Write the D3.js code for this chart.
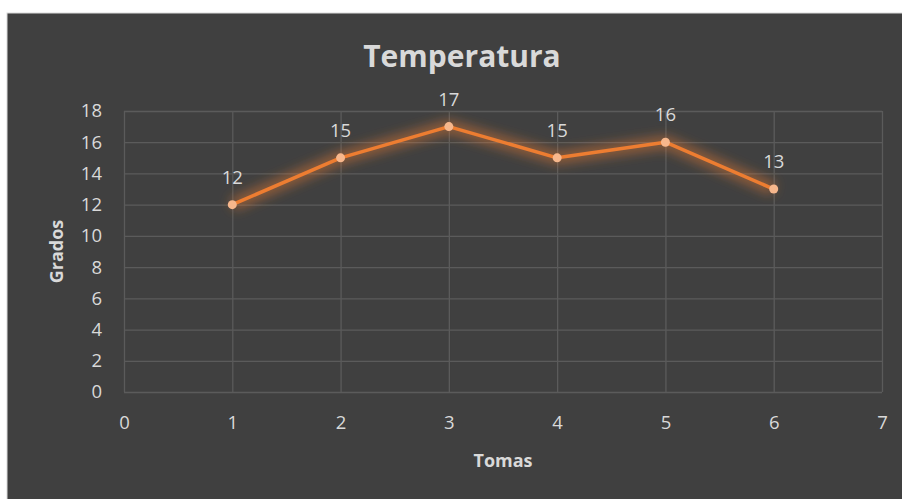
<!DOCTYPE html>
<html>
<head>
<meta charset="utf-8">
<script src="https://cdn.jsdelivr.net/npm/d3@7"></script>
<style>
	html, body { margin: 0; padding: 0; background: #fff; }
	svg { display: block; }
</style>
</head>
<body>
<svg id="chart" width="902" height="499"></svg>
<script>
// Chart data
const tomas = [1, 2, 3, 4, 5, 6]
const grados = [12, 15, 17, 15, 16, 13]
const xTicks = [0, 1, 2, 3, 4, 5, 6, 7]
const yTicks = [0, 2, 4, 6, 8, 10, 12, 14, 16, 18]
const title = 'Temperatura'
const xTitle = 'Tomas'
const yTitle = 'Grados'

const font = '"Open Sans", "Noto Sans", sans-serif'
const textColor = '#d9d9d9'
const gridColor = '#5b5b5b'
const orange = '#ed7d31'

let svg = d3.select('#chart')
let margin = { top: 111, right: 20, bottom: 107, left: 124 },
	width = 902 - margin.left - margin.right,
	height = 499 - margin.top - margin.bottom

// dark panel
svg.append('rect')
	.attr('x', 7).attr('y', 13)
	.attr('width', 902).attr('height', 499)
	.attr('fill', '#404040')
	.attr('stroke', '#d9d9d9')
	.attr('stroke-width', 1)

let defs = svg.append('defs')
let glow = defs.append('filter')
	.attr('id', 'glow')
	.attr('x', '-20%').attr('y', '-50%')
	.attr('width', '140%').attr('height', '200%')
glow.append('feGaussianBlur')
	.attr('in', 'SourceGraphic')
	.attr('stdDeviation', 6)

let x = d3.scaleLinear()
	.domain([0, 7])
	.range([margin.left, margin.left + width])
let y = d3.scaleLinear()
	.domain([0, 18])
	.range([margin.top + height, margin.top])

// Grid lines
svg.append('g')
	.selectAll('line')
	.data(yTicks)
	.join('line')
	.attr('x1', x(0)).attr('x2', x(7))
	.attr('y1', d => y(d) + 0.5).attr('y2', d => y(d) + 0.5)
	.attr('stroke', gridColor)
	.attr('stroke-width', 1.3)

svg.append('g')
	.selectAll('line')
	.data(xTicks)
	.join('line')
	.attr('x1', d => x(d) + 0.5).attr('x2', d => x(d) + 0.5)
	.attr('y1', y(0)).attr('y2', y(18))
	.attr('stroke', gridColor)
	.attr('stroke-width', 1.3)

// Axes (labels only)
let xAxis = svg.append('g')
	.attr('transform', `translate(0, ${y(0)})`)
	.call(d3.axisBottom(x).tickValues(xTicks).tickSize(0).tickPadding(24).tickFormat(d3.format('d')))
let yAxis = svg.append('g')
	.attr('transform', `translate(${x(0)}, 0)`)
	.call(d3.axisLeft(y).tickValues(yTicks).tickSize(0).tickPadding(22).tickFormat(d3.format('d')))

;[xAxis, yAxis].forEach(a => {
	a.select('.domain').remove()
	a.selectAll('text')
		.attr('fill', textColor)
		.attr('font-family', font)
		.attr('font-size', 18.5)
})

// Line with glow
let data = tomas.map((t, i) => [t, grados[i]])
let line = d3.line().x(d => x(d[0])).y(d => y(d[1]))

svg.append('path')
	.datum(data)
	.attr('fill', 'none')
	.attr('stroke', orange)
	.attr('stroke-width', 12)
	.attr('stroke-opacity', 0.5)
	.attr('stroke-linejoin', 'round')
	.attr('filter', 'url(#glow)')
	.attr('d', line)

svg.append('path')
	.datum(data)
	.attr('fill', 'none')
	.attr('stroke', orange)
	.attr('stroke-width', 3.5)
	.attr('stroke-linejoin', 'round')
	.attr('d', line)

// Markers
svg.append('g')
	.selectAll('circle')
	.data(data)
	.join('circle')
	.attr('cx', d => x(d[0]))
	.attr('cy', d => y(d[1]))
	.attr('r', 4.5)
	.attr('fill', '#f7b78c')

// Data labels
svg.append('g')
	.selectAll('text')
	.data(data)
	.join('text')
	.attr('x', d => x(d[0]))
	.attr('y', d => y(d[1]) - 21)
	.attr('text-anchor', 'middle')
	.attr('fill', textColor)
	.attr('font-family', font)
	.attr('font-size', 18.5)
	.text(d => d[1])

// Titles
svg.append('text')
	.attr('x', 462)
	.attr('y', 67)
	.attr('text-anchor', 'middle')
	.attr('fill', textColor)
	.attr('font-family', font)
	.attr('font-weight', 'bold')
	.attr('font-size', 30)
	.text(title)

svg.append('text')
	.attr('x', x(3.5))
	.attr('y', 467)
	.attr('text-anchor', 'middle')
	.attr('fill', textColor)
	.attr('font-family', font)
	.attr('font-weight', 'bold')
	.attr('font-size', 18)
	.text(xTitle)

svg.append('text')
	.attr('transform', `translate(63, ${y(9)}) rotate(-90)`)
	.attr('text-anchor', 'middle')
	.attr('fill', textColor)
	.attr('font-family', font)
	.attr('font-weight', 'bold')
	.attr('font-size', 18)
	.text(yTitle)
</script>
</body>
</html>
